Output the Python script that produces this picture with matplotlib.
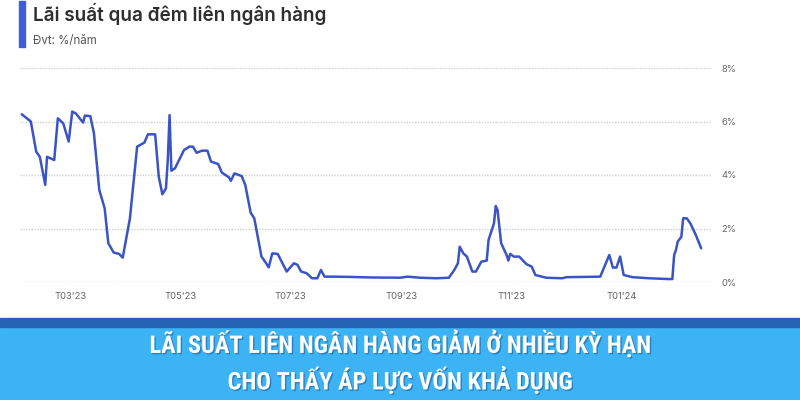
import matplotlib
matplotlib.use('Agg')
import matplotlib.pyplot as plt
import matplotlib.patheffects as pe
from matplotlib import font_manager
from matplotlib.patches import Rectangle
import pandas as pd

# Data (overnight interbank rate, %/year)
dates = ['2023-02-02', '2023-02-07', '2023-02-10', '2023-02-12', '2023-02-15', '2023-02-16',
         '2023-02-20', '2023-02-22', '2023-02-25', '2023-02-28', '2023-03-02', '2023-03-04',
         '2023-03-08', '2023-03-09', '2023-03-12', '2023-03-14', '2023-03-17', '2023-03-20',
         '2023-03-22', '2023-03-25', '2023-03-28', '2023-03-30', '2023-04-03', '2023-04-07',
         '2023-04-11', '2023-04-13', '2023-04-17', '2023-04-19', '2023-04-21', '2023-04-23',
         '2023-04-24', '2023-04-25', '2023-04-26', '2023-04-28', '2023-05-03', '2023-05-06',
         '2023-05-08', '2023-05-10', '2023-05-13', '2023-05-16', '2023-05-18', '2023-05-22',
         '2023-05-24', '2023-05-28', '2023-05-29', '2023-05-31', '2023-06-04', '2023-06-06',
         '2023-06-09', '2023-06-11', '2023-06-15', '2023-06-17', '2023-06-19', '2023-06-21',
         '2023-06-24', '2023-06-29', '2023-07-03', '2023-07-05', '2023-07-07', '2023-07-10',
         '2023-07-13', '2023-07-16', '2023-07-18', '2023-07-20', '2023-07-25', '2023-08-03',
         '2023-08-14', '2023-08-31', '2023-09-04', '2023-09-11', '2023-09-20', '2023-09-27',
         '2023-09-30', '2023-10-02', '2023-10-03', '2023-10-05', '2023-10-07', '2023-10-10',
         '2023-10-12', '2023-10-15', '2023-10-18', '2023-10-19', '2023-10-22', '2023-10-23',
         '2023-10-24', '2023-10-26', '2023-10-29', '2023-10-30', '2023-10-31', '2023-11-02',
         '2023-11-05', '2023-11-09', '2023-11-12', '2023-11-14', '2023-11-20', '2023-11-29',
         '2023-12-01', '2023-12-20', '2023-12-25', '2023-12-27', '2023-12-29', '2023-12-31',
         '2024-01-02', '2024-01-07', '2024-01-16', '2024-01-27', '2024-01-29', '2024-01-30',
         '2024-01-31', '2024-02-01', '2024-02-03', '2024-02-04', '2024-02-06', '2024-02-08',
         '2024-02-11', '2024-02-14']
rates = [6.27, 6.00, 4.87, 4.68, 3.63, 4.68,
         4.56, 6.12, 5.93, 5.25, 6.37, 6.30,
         5.96, 6.22, 6.20, 5.57, 3.44, 2.75,
         1.45, 1.10, 1.05, 0.91, 2.38, 5.06,
         5.21, 5.52, 5.52, 3.94, 3.28, 3.50,
         4.56, 6.24, 4.16, 4.25, 4.93, 5.06,
         5.06, 4.83, 4.91, 4.91, 4.50, 4.41,
         4.09, 3.91, 3.78, 4.06, 3.96, 3.63,
         2.59, 2.38, 0.95, 0.76, 0.55, 1.07,
         1.05, 0.39, 0.70, 0.64, 0.39, 0.33,
         0.14, 0.14, 0.45, 0.20, 0.20, 0.19,
         0.17, 0.16, 0.20, 0.16, 0.14, 0.16,
         0.45, 0.70, 1.32, 1.07, 0.95, 0.39,
         0.39, 0.76, 0.80, 1.57, 2.19, 2.84,
         2.69, 1.45, 1.01, 0.80, 1.05, 0.95,
         0.95, 0.67, 0.57, 0.26, 0.16, 0.14,
         0.18, 0.20, 1.01, 0.54, 0.54, 0.95,
         0.26, 0.18, 0.14, 0.11, 0.11, 1.01,
         1.20, 1.51, 1.69, 2.38, 2.38, 2.19,
         1.76, 1.26]

tick_dates = ['2023-03-01', '2023-05-01', '2023-07-01', '2023-09-01', '2023-11-01', '2024-01-01']
tick_labels = ["T03'23", "T05'23", "T07'23", "T09'23", "T11'23", "T01'24"]
y_ticks = [0, 2, 4, 6, 8]
y_labels = ['0%', '2%', '4%', '6%', '8%']

title = 'Lãi suất qua đêm liên ngân hàng'
unit = 'Đvt: %/năm'
banner_lines = ['LÃI SUẤT LIÊN NGÂN HÀNG GIẢM Ở NHIỀU KỲ HẠN',
                'CHO THẤY ÁP LỰC VỐN KHẢ DỤNG']

plt.rcParams['font.family'] = ['Inter', 'DejaVu Sans']


# pick a condensed bold face for the banner if one is installed
def pick_font(names):
    for name in names:
        try:
            font_manager.findfont(font_manager.FontProperties(family=name, weight='bold'),
                                  fallback_to_default=False)
            return name
        except Exception:
            pass
    return 'DejaVu Sans'


banner_font = pick_font(['Liberation Sans Narrow', 'DejaVu Sans Condensed', 'Roboto Condensed',
                         'Open Sans Condensed', 'DejaVu Sans'])

x = pd.to_datetime(dates)

fig = plt.figure(figsize=(8, 4), dpi=100)
ax = fig.add_axes([0.025, 0.295, 0.865, 0.535])

ax.plot(x, rates, color='#3a54c6', lw=1.8, solid_joinstyle='round', solid_capstyle='round')

ax.set_ylim(0, 8)
ax.set_xlim(pd.Timestamp('2023-02-01'), pd.Timestamp('2024-02-20'))
ax.set_yticks(y_ticks)
ax.set_yticklabels(y_labels)
ax.yaxis.tick_right()
ax.set_xticks(pd.to_datetime(tick_dates))
ax.set_xticklabels(tick_labels)
ax.tick_params(axis='both', length=0, labelsize=6.8, labelcolor='#666666')
ax.tick_params(axis='y', pad=7)
ax.tick_params(axis='x', pad=7)
ax.grid(axis='y', color='#d0d0d0', linestyle=(0, (1, 1)), lw=1.0)
ax.set_axisbelow(True)
for s in ax.spines.values():
    s.set_visible(False)

# header
fig.patches.append(Rectangle((0.024, 0.8825), 0.0075, 0.115, transform=fig.transFigure,
                             color='#3d5ddb', zorder=1))
fig.text(0.041, 0.965, title, fontsize=13.6, fontweight='semibold', color='#2e2e2e', va='center')
fig.text(0.041, 0.898, unit, fontsize=8.3, color='#555555', va='center')

# bottom banner
fig.patches.append(Rectangle((0, 0), 1, 0.1825, transform=fig.transFigure,
                             color='#3bb3f4', zorder=1))
fig.patches.append(Rectangle((0, 0.1825), 1, 0.0225, transform=fig.transFigure,
                             color='#2563b5', zorder=1))
shadow = [pe.withSimplePatchShadow(offset=(1, -1), shadow_rgbFace='#1a4f8a', alpha=0.5)]
for i, line in enumerate(banner_lines):
    fig.text(0.5, [0.14, 0.05][i], line, family=[banner_font, 'DejaVu Sans'], fontsize=17.5,
             fontweight='bold', color='white', ha='center', va='center', path_effects=shadow)

fig.savefig('out.png', dpi=100, facecolor='white')
